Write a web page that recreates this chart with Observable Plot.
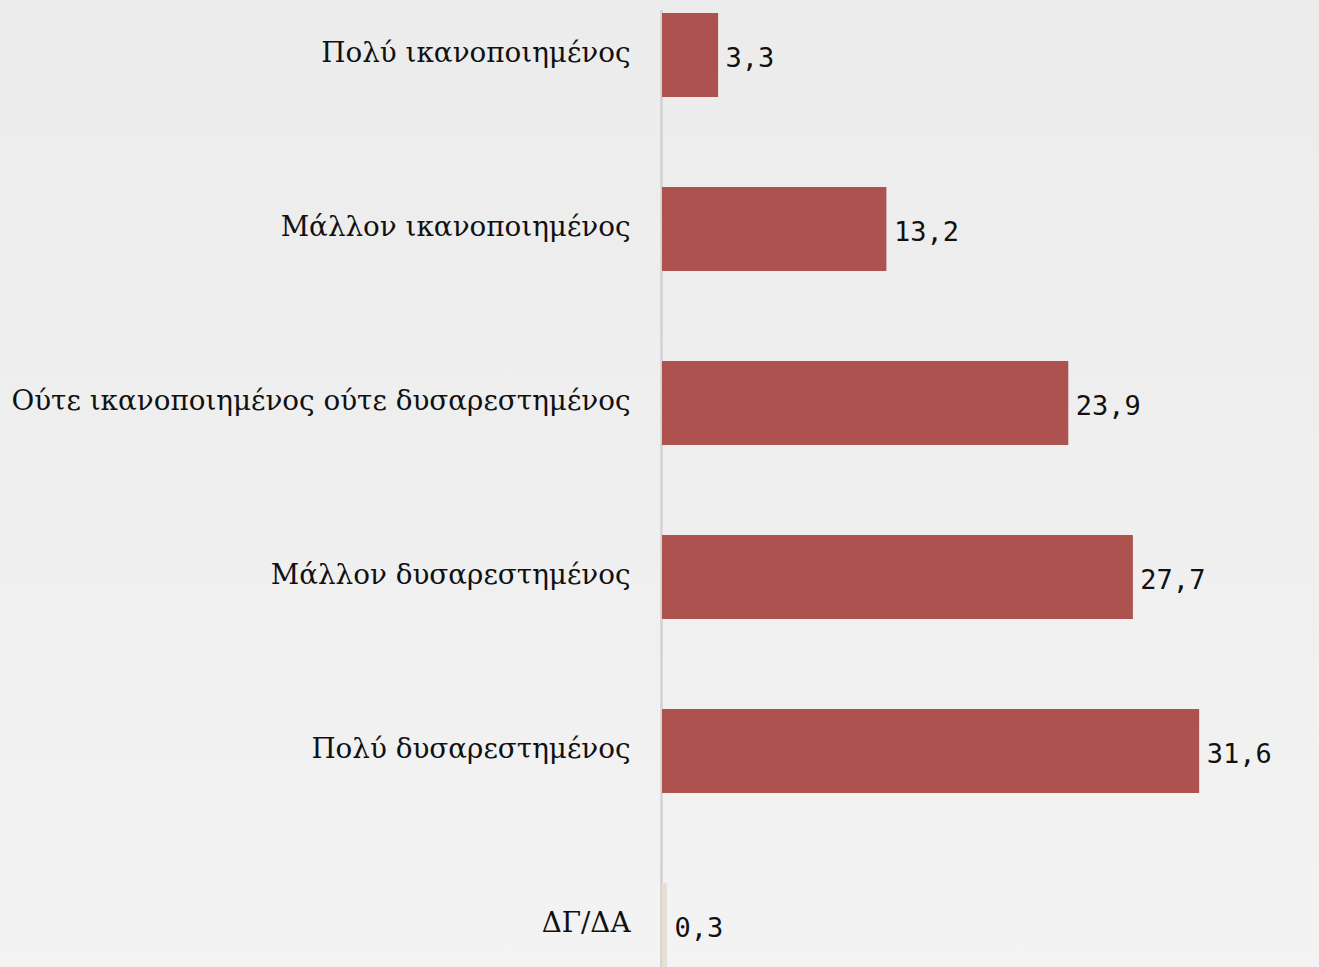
<!DOCTYPE html>
<html>
<head>
<meta charset="utf-8">
<script src="https://cdn.jsdelivr.net/npm/d3@7"></script>
<script src="https://cdn.jsdelivr.net/npm/@observablehq/plot@0.6"></script>
<style>
  html, body { margin: 0; padding: 0; overflow: hidden; }
  body { background: linear-gradient(180deg, #ececec 0%, #efefef 50%, #f3f3f3 100%); height: 967px; }
  #chart svg { display: block; }
</style>
</head>
<body>
<div id="chart"></div>
<script>
const categories = [
  "Πολύ ικανοποιημένος",
  "Μάλλον ικανοποιημένος",
  "Ούτε ικανοποιημένος ούτε δυσαρεστημένος",
  "Μάλλον δυσαρεστημένος",
  "Πολύ δυσαρεστημένος",
  "ΔΓ/ΔΑ"
];
const values = [3.3, 13.2, 23.9, 27.7, 31.6, 0.3];
const colors = ["#ad524f", "#ad524f", "#ad524f", "#ad524f", "#ad524f", "#e8e0d3"];

const data = categories.map((c, i) => ({cat: c, value: values[i], color: colors[i],
  label: String(values[i]).replace(".", ",")}));

const chart = Plot.plot({
  width: 1319,
  height: 980,
  marginLeft: 662,
  marginRight: 0,
  marginTop: 0,
  marginBottom: 0,
  style: {background: "transparent", overflow: "visible"},
  x: {domain: [0, 38.65], axis: null},
  y: {domain: categories, paddingInner: 0.52, paddingOuter: 0.075, label: null},
  marks: [
    Plot.ruleX([0], {stroke: "#d2d2d2", strokeWidth: 2.5, dx: -1, insetTop: 10}),
    Plot.barX(data, {y: "cat", x: "value", fill: "color"}),
    Plot.text(data, {y: "cat", x: "value", text: "label", textAnchor: "start", dx: 7, dy: 3,
      fontFamily: "DejaVu Sans Mono", fontSize: 27, fill: "#111"}),
    Plot.axisY({tickSize: 0, tickPadding: 32, fontSize: 27.8, fontFamily: "DejaVu Serif",
      fill: "#111", label: null, dy: -2})
  ]
});
document.getElementById("chart").appendChild(chart);
</script>
</body>
</html>
